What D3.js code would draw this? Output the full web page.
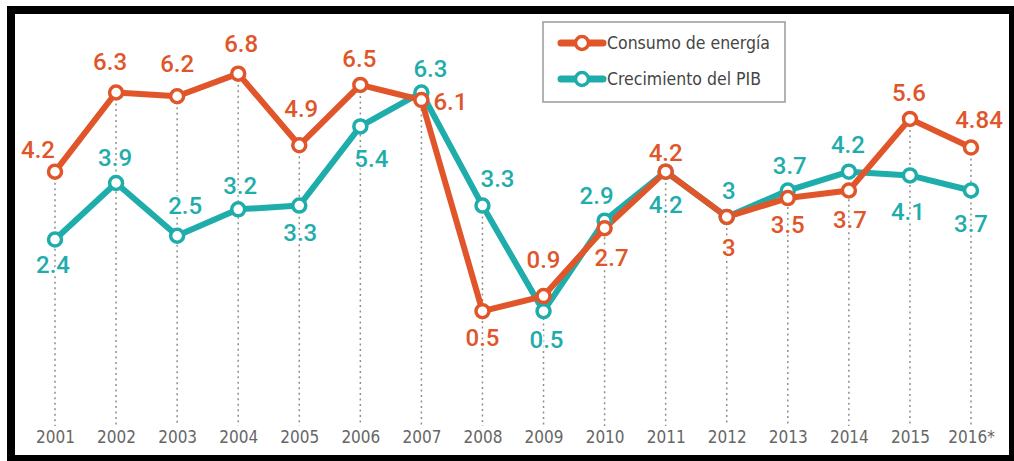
<!DOCTYPE html>
<html>
<head>
<meta charset="utf-8">
<script src="https://cdn.jsdelivr.net/npm/d3@7"></script>
<style>
  html, body { margin: 0; padding: 0; background: #fff; }
  svg { display: block; }
</style>
</head>
<body>
<svg id="chart"></svg>
<script>
// data
const years = ['2001', '2002', '2003', '2004', '2005', '2006', '2007', '2008',
  '2009', '2010', '2011', '2012', '2013', '2014', '2015', '2016*'];
const energia = [4.2, 6.3, 6.2, 6.8, 4.9, 6.5, 6.1, 0.5, 0.9, 2.7, 4.2, 3, 3.5, 3.7, 5.6, 4.84];
const pib = [2.4, 3.9, 2.5, 3.2, 3.3, 5.4, 6.3, 3.3, 0.5, 2.9, 4.2, 3, 3.7, 4.2, 4.1, 3.7];
const energiaLabels = ['4.2', '6.3', '6.2', '6.8', '4.9', '6.5', '6.1', '0.5', '0.9', '2.7', '4.2', '3', '3.5', '3.7', '5.6', '4.84'];
const pibLabels = ['2.4', '3.9', '2.5', '3.2', '3.3', '5.4', '6.3', '3.3', '0.5', '2.9', '4.2', '3', '3.7', '4.2', '4.1', '3.7'];
const seriesNames = ['Consumo de energía', 'Crecimiento del PIB'];

// label placement (dx, dy from the point)
const energiaOff = [[-17, -14], [-6, -22], [0, -24], [3, -22], [2, -28], [-1, -18], [29, 10], [0, 35],
  [0, -28], [7, 38], [0, -11], [2, 39], [0, 35], [1, 37], [-1, -18], [8, -20]];
const pibOff = [[-2, 33], [-1, -17], [8, -22], [2, -15], [1, 35], [11, 41], [9, -15], [15, -19],
  [3, 37], [-8, -17], [0, 41], [2, -18], [2, -17], [-1, -19], [-2, 45], [0, 41]];

const W = 1014, H = 461;
const orange = '#e0562a', teal = '#1fadac';

const svg = d3.select('#chart').attr('width', W).attr('height', H);

// black frame
svg.append('rect').attr('x', 7).attr('y', 6).attr('width', W - 7).attr('height', H - 6).attr('fill', '#000');
svg.append('rect').attr('x', 15).attr('y', 14).attr('width', 994).attr('height', 441).attr('fill', '#fff');

const x = d3.scalePoint().domain(years).range([55, 971]);
const y = d3.scaleLinear().domain([0, 7]).range([330, 66.1]);

// year axis
const axis = svg.append('g')
  .attr('transform', 'translate(0,443)')
  .call(d3.axisBottom(x).tickSize(0).tickPadding(0));
axis.select('.domain').remove();
axis.selectAll('text')
  .attr('dy', 0)
  .attr('fill', '#666')
  .style('font-family', '"DejaVu Sans Condensed", sans-serif')
  .style('font-size', '17px');

// dotted guides from the upper point down to the axis
svg.append('g').selectAll('line')
  .data(years)
  .join('line')
  .attr('x1', d => x(d)).attr('x2', d => x(d))
  .attr('y1', (d, i) => y(Math.max(energia[i], pib[i])))
  .attr('y2', 426)
  .attr('stroke', '#8f8f8f')
  .attr('stroke-width', 1.5)
  .attr('stroke-dasharray', '2,3.5');

const line = d3.line().x((d, i) => x(years[i])).y(d => y(d));

const series = [
  { vals: pib, color: teal, labels: pibLabels, off: pibOff },
  { vals: energia, color: orange, labels: energiaLabels, off: energiaOff }
];

series.forEach(s => {
  svg.append('path')
    .datum(s.vals)
    .attr('d', line)
    .attr('fill', 'none')
    .attr('stroke', s.color)
    .attr('stroke-width', 6)
    .attr('stroke-linejoin', 'round');
});

series.forEach(s => {
  svg.append('g').selectAll('circle')
    .data(s.vals)
    .join('circle')
    .attr('cx', (d, i) => x(years[i]))
    .attr('cy', d => y(d))
    .attr('r', 6.5)
    .attr('fill', '#fff')
    .attr('stroke', s.color)
    .attr('stroke-width', 3.5);
});

series.forEach(s => {
  svg.append('g').selectAll('text')
    .data(s.vals)
    .join('text')
    .attr('x', (d, i) => x(years[i]) + s.off[i][0])
    .attr('y', (d, i) => y(d) + s.off[i][1])
    .attr('text-anchor', 'middle')
    .attr('fill', s.color)
    .attr('stroke', '#fff')
    .attr('stroke-width', 3)
    .attr('paint-order', 'stroke')
    .style('font-family', 'Roboto, sans-serif')
    .style('font-weight', 500)
    .style('font-size', '24px')
    .text((d, i) => s.labels[i]);
});

// legend
const lg = svg.append('g');
lg.append('rect')
  .attr('x', 543).attr('y', 22).attr('width', 242).attr('height', 80)
  .attr('fill', '#fff').attr('stroke', '#9a9a9a').attr('stroke-width', 1.5);
[orange, teal].forEach((c, i) => {
  const cy = 43 + i * 36;
  lg.append('line').attr('x1', 561).attr('x2', 603).attr('y1', cy).attr('y2', cy)
    .attr('stroke', c).attr('stroke-width', 7).attr('stroke-linecap', 'round');
  lg.append('circle').attr('cx', 582).attr('cy', cy).attr('r', 6.5)
    .attr('fill', '#fff').attr('stroke', c).attr('stroke-width', 3.5);
  lg.append('text').attr('x', 607).attr('y', cy + 6)
    .attr('fill', '#454545')
    .style('font-family', '"DejaVu Sans Condensed", sans-serif')
    .style('font-size', '17.5px')
    .text(seriesNames[i]);
});
</script>
</body>
</html>
